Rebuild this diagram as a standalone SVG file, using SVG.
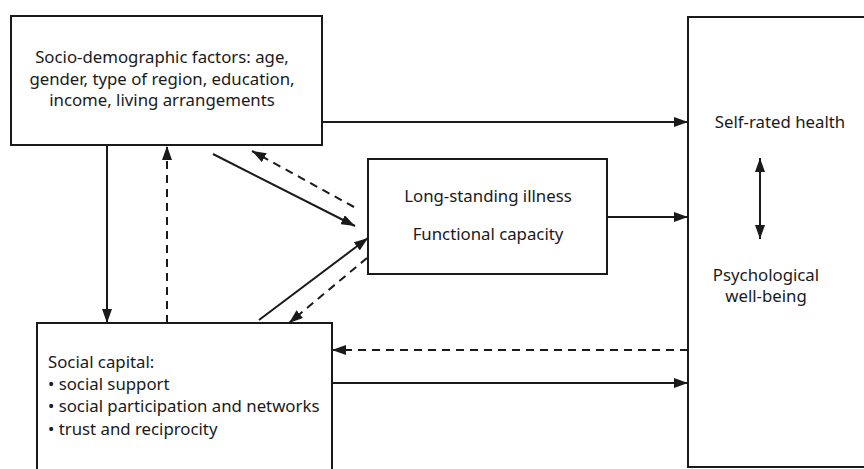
<svg xmlns="http://www.w3.org/2000/svg" width="864" height="469" viewBox="0 0 864 469">
<style>
.box{fill:#fff;stroke:#1a1a1a;stroke-width:2}
.t{font-family:"Noto Sans","Open Sans",sans-serif;font-size:16.8px;fill:#1a1a1a}
.c{text-anchor:middle}
.ln{stroke:#1a1a1a;stroke-width:2;fill:none}
.d{stroke-dasharray:8 6}
</style>
<defs>
<marker id="ah" viewBox="0 0 14 10" refX="14" refY="5" markerWidth="14" markerHeight="10" markerUnits="userSpaceOnUse" orient="auto-start-reverse">
<path d="M0,0 L14,5 L0,10 Z" fill="#1a1a1a"/>
</marker>
</defs>
<rect width="864" height="469" fill="#fff"/>
<g id="socio">
<rect class="box" x="11" y="16" width="311" height="129"/>
<text class="t c" x="162" y="63">Socio-demographic factors: age,</text>
<text class="t c" x="162" y="85">gender, type of region, education,</text>
<text class="t c" x="162" y="106">income, living arrangements</text>
</g>
<g id="illness">
<rect class="box" x="368" y="159" width="239" height="115"/>
<text class="t c" x="488" y="202">Long-standing illness</text>
<text class="t c" x="488" y="240">Functional capacity</text>
</g>
<g id="social">
<rect class="box" x="37" y="323" width="295" height="160"/>
<text class="t" x="48" y="368">Social capital:</text>
<text class="t" x="48" y="390">• social support</text>
<text class="t" x="48" y="412">• social participation and networks</text>
<text class="t" x="48" y="435">• trust and reciprocity</text>
</g>
<g id="health">
<rect class="box" x="688" y="17" width="190" height="450"/>
<text class="t c" x="780" y="128">Self-rated health</text>
<text class="t c" x="766" y="281">Psychological</text>
<text class="t c" x="766" y="302">well-being</text>
</g>
<g id="connectors">
<line class="ln" x1="322" y1="122" x2="688" y2="122" marker-end="url(#ah)"/>
<line class="ln" x1="607" y1="217" x2="688" y2="217" marker-end="url(#ah)"/>
<line class="ln" x1="332" y1="383" x2="688" y2="383" marker-end="url(#ah)"/>
<line class="ln d" x1="688" y1="350" x2="332" y2="350" marker-end="url(#ah)"/>
<line class="ln" x1="760" y1="158" x2="760" y2="239" marker-start="url(#ah)" marker-end="url(#ah)"/>
<line class="ln" x1="107" y1="145" x2="107" y2="323" marker-end="url(#ah)"/>
<line class="ln d" x1="167" y1="323" x2="167" y2="146" marker-end="url(#ah)"/>
<line class="ln" x1="213" y1="154" x2="355" y2="226" marker-end="url(#ah)"/>
<line class="ln d" x1="354" y1="207" x2="252" y2="151" marker-end="url(#ah)"/>
<line class="ln" x1="259" y1="320" x2="368" y2="238" marker-end="url(#ah)"/>
<line class="ln d" x1="367" y1="258" x2="289" y2="323" marker-end="url(#ah)"/>
</g>
</svg>
